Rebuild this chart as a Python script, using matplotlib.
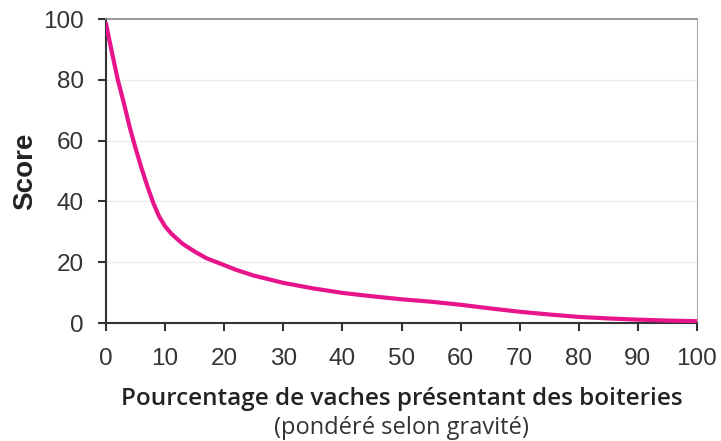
import matplotlib
matplotlib.use("Agg")
import matplotlib.pyplot as plt

# Data
pct = [0, 1, 2, 3, 4, 5, 6, 7, 8, 9, 10, 11, 12, 13, 15, 17, 19, 22, 25, 30, 35, 40,
       45, 50, 55, 60, 65, 70, 75, 80, 85, 90, 95, 100]
score = [98.5, 89, 80, 72.5, 64.5, 57.5, 51, 45, 39.5, 35, 31.8, 29.5, 27.7, 26, 23.5,
         21.3, 19.8, 17.5, 15.6, 13.2, 11.4, 9.9, 8.8, 7.8, 7.0, 6.0, 4.8, 3.7, 2.8,
         2.0, 1.5, 1.1, 0.8, 0.6]
xticks = [0, 10, 20, 30, 40, 50, 60, 70, 80, 90, 100]
yticks = [0, 20, 40, 60, 80, 100]

fig = plt.figure(figsize=(7.21, 4.41), dpi=100)
ax = fig.add_axes([106 / 721, 1 - 323 / 441, (697 - 106) / 721, (323 - 19) / 441])

ax.plot(pct, score, color="#e8148c", lw=3, solid_capstyle="round", zorder=3)

ax.set_xlim(0, 100)
ax.set_ylim(0, 100)
ax.set_xticks(xticks)
ax.set_yticks(yticks)
for y in yticks[1:-1]:
    ax.axhline(y, color="#ececec", lw=0.8, zorder=1)

ax.spines["left"].set_color("#333333")
ax.spines["bottom"].set_color("#333333")
ax.spines["left"].set_linewidth(1.5)
ax.spines["bottom"].set_linewidth(1.5)
ax.spines["top"].set_color("#888888")
ax.spines["right"].set_color("#aaaaaa")
ax.spines["top"].set_linewidth(1.2)
ax.tick_params(direction="out", length=6, width=1.5, color="#333333",
               labelsize=17.5, labelcolor="#333333")
ax.tick_params(axis="y", pad=10)
ax.tick_params(axis="x", pad=12)
for lab in ax.get_xticklabels() + ax.get_yticklabels():
    lab.set_family("Liberation Sans")

ax.set_ylabel("Score", fontsize=20, fontweight="bold", family="Liberation Sans",
              color="#222222")
ax.yaxis.set_label_coords(-(106 - 38) / 591, 0.5)
fig.text(401.5 / 721, 1 - 399 / 441, "Pourcentage de vaches présentant des boiteries",
         ha="center", va="center", fontsize=17.5, fontweight="semibold", family="Open Sans",
         color="#222222")
fig.text(401 / 721, 1 - 428 / 441, "(pondéré selon gravité)",
         ha="center", va="center", fontsize=17, family="Open Sans", color="#333333")

fig.savefig("out.png", dpi=100, facecolor="white")
